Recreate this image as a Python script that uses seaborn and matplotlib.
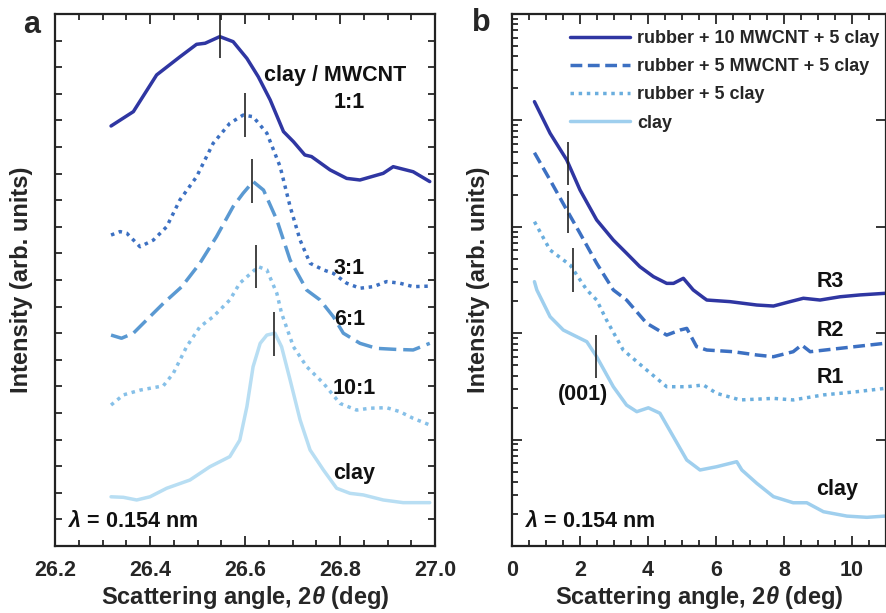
import numpy as np
import pandas as pd
import matplotlib
matplotlib.use("Agg")
import matplotlib.pyplot as plt
from matplotlib.ticker import MultipleLocator, LogLocator, NullFormatter
import seaborn as sns

# ---------------- Panel a data ----------------
a_11_x = [26.318, 26.365, 26.414, 26.463, 26.498, 26.516, 26.547, 26.575, 26.604, 26.628, 26.653,
          26.681, 26.702, 26.726, 26.740, 26.779, 26.814, 26.842, 26.891, 26.912, 26.954, 26.989]
a_11_y = [15.79, 16.33, 17.71, 18.39, 18.86, 18.90, 19.15, 18.96, 18.33, 17.64, 16.77,
          15.58, 15.20, 14.70, 14.64, 14.14, 13.82, 13.76, 14.01, 14.26, 14.07, 13.70]

a_31_x = [26.318, 26.337, 26.351, 26.379, 26.407, 26.435, 26.463, 26.498, 26.533, 26.568, 26.596, 26.617,
          26.646, 26.674, 26.695, 26.716, 26.737, 26.765, 26.786, 26.814, 26.842, 26.870, 26.898, 26.926,
          26.954, 26.989]
a_31_y = [11.69, 11.82, 11.76, 11.25, 11.50, 12.00, 13.01, 13.88, 15.14, 15.89, 16.20, 16.14,
          15.52, 14.26, 12.76, 11.50, 10.63, 10.38, 10.25, 9.88, 9.69, 9.75, 9.94, 9.88,
          9.75, 9.77]

a_61_x = [26.318, 26.340, 26.365, 26.393, 26.428, 26.467, 26.505, 26.540, 26.575, 26.596, 26.617, 26.639,
          26.667, 26.695, 26.730, 26.758, 26.786, 26.807, 26.842, 26.877, 26.919, 26.954, 26.989]
a_61_y = [7.93, 7.81, 8.00, 8.50, 9.12, 9.75, 10.63, 11.63, 12.76, 13.26, 13.70, 13.38,
          12.26, 10.75, 9.62, 9.25, 8.62, 8.00, 7.62, 7.43, 7.39, 7.37, 7.62]

a_101_x = [26.318, 26.344, 26.379, 26.428, 26.449, 26.477, 26.505, 26.533, 26.568, 26.589, 26.628, 26.646,
           26.667, 26.677, 26.702, 26.730, 26.765, 26.800, 26.835, 26.863, 26.898, 26.926, 26.954, 26.989]
a_101_y = [5.30, 5.68, 5.86, 6.02, 6.49, 7.49, 8.24, 8.62, 9.25, 9.88, 10.50, 10.38,
           9.50, 8.75, 7.49, 6.74, 6.12, 5.36, 5.11, 5.18, 5.20, 5.05, 4.80, 4.55]

a_clay_x = [26.318, 26.344, 26.372, 26.400, 26.435, 26.484, 26.526, 26.568, 26.589, 26.604, 26.617, 26.632,
            26.646, 26.663, 26.677, 26.695, 26.716, 26.737, 26.765, 26.793, 26.821, 26.849, 26.891, 26.933,
            26.989]
a_clay_y = [1.85, 1.83, 1.73, 1.85, 2.17, 2.48, 2.98, 3.36, 3.98, 5.24, 6.74, 7.62,
            7.93, 8.00, 7.49, 6.24, 4.74, 3.61, 2.86, 2.17, 1.98, 1.92, 1.73, 1.63,
            1.63]

a_peak_x = [26.547, 26.599, 26.615, 26.623, 26.660]
a_peak_y0 = [18.33, 15.39, 12.91, 9.70, 7.14]
a_peak_y1 = [19.96, 17.04, 14.54, 11.32, 8.81]
a_ratio_labels = ["1:1", "3:1", "6:1", "10:1", "clay"]

# ---------------- Panel b data ----------------
b_r3_x = [0.66, 1.12, 1.61, 2.00, 2.49, 2.98, 3.37, 3.76, 4.16, 4.55, 4.75, 5.04, 5.33, 5.63, 5.73,
          6.41, 7.20, 7.69, 8.18, 8.57, 9.06, 9.65, 10.24, 10.97]
b_r3_y = [15000, 7570, 4250, 2220, 1160, 751, 564, 422, 340, 294, 294, 328, 255, 216, 205,
          198, 184, 180, 198, 213, 205, 220, 229, 237]

b_r2_x = [0.66, 1.12, 1.61, 2.00, 2.49, 2.98, 3.37, 3.96, 4.55, 4.94, 5.14, 5.43, 5.73, 6.51, 7.20,
          7.69, 8.27, 8.52, 8.77, 9.65, 10.97]
b_r2_y = [4970, 2750, 1440, 869, 454, 255, 205, 124, 96, 107, 111, 74.7, 69.5, 67, 62.4,
          60.1, 67, 77.5, 67, 72.1, 80.4]

b_r1_x = [0.66, 1.12, 1.71, 2.20, 2.49, 2.78, 3.27, 3.96, 4.55, 5.14, 5.63, 6.02, 6.71, 7.69, 8.27,
          9.16, 10.14, 10.97]
b_r1_y = [1117, 605, 437, 255, 205, 133, 69.5, 45.1, 31.4, 31.4, 32.6, 27.2, 23.6, 24.4, 23.6,
          26.3, 28.2, 30.3]

b_clay_x = [0.66, 0.73, 1.12, 1.51, 2.20, 2.49, 2.98, 3.37, 3.67, 4.01, 4.35, 4.75, 5.14, 5.53, 6.02,
            6.61, 6.76, 7.20, 7.69, 8.27, 8.67, 9.16, 9.85, 10.44, 10.97]
b_clay_y = [305, 255, 143, 107, 83.2, 60.1, 31.4, 21.1, 18.3, 19.9, 17.7, 10.6, 6.43, 5.18, 5.56,
            6.20, 5.18, 3.88, 2.91, 2.55, 2.55, 2.10, 1.91, 1.86, 1.91]

b_peak_x = [1.64, 1.64, 1.79, 2.46]
b_peak_y0 = [2470, 869, 245, 38.2]
b_peak_y1 = [6310, 2185, 628, 96.2]
b_series_labels = ["rubber + 10 MWCNT + 5 clay", "rubber + 5 MWCNT + 5 clay", "rubber + 5 clay", "clay"]
b_curve_tags = ["R3", "R2", "R1", "clay"]

# ---------------- style ----------------
sns.set_style("ticks")
plt.rcParams["font.family"] = ["Liberation Sans", "DejaVu Sans"]
plt.rcParams["font.weight"] = "bold"
plt.rcParams["mathtext.fontset"] = "custom"
plt.rcParams["mathtext.it"] = "Liberation Sans:italic:bold"
plt.rcParams["mathtext.rm"] = "Liberation Sans:bold"
plt.rcParams["axes.linewidth"] = 1.6

navy = "#2f36a2"
blue_mid = "#3c70c2"
blue_61 = "#5a99d2"
blue_lt = "#86c0e8"
blue_clay_a = "#b8def3"
b_r1_col = "#6aaede"
b_clay_col = "#9fcfee"

LW = 2.5
DOT = (0, (1.0, 1.35))
DASH_B = (0, (3.4, 1.6))
DASH_A = (0, (5.0, 2.0))

fig = plt.figure(figsize=(8.87, 6.13), dpi=100)
axA = fig.add_axes([55 / 887, 67 / 613, 380 / 887, 532 / 613])
axB = fig.add_axes([512 / 887, 67 / 613, 374 / 887, 532 / 613])

# Panel a
series_a = [
    (a_11_x, a_11_y, navy, "-"),
    (a_31_x, a_31_y, blue_mid, DOT),
    (a_61_x, a_61_y, blue_61, DASH_A),
    (a_101_x, a_101_y, blue_lt, DOT),
    (a_clay_x, a_clay_y, blue_clay_a, "-"),
]
for xs, ys, col, ls in series_a:
    sns.lineplot(x=xs, y=ys, ax=axA, color=col, linestyle=ls, lw=LW, sort=False,
                 estimator=None)
axA.vlines(a_peak_x, a_peak_y0, a_peak_y1, color="#222222", lw=1.2)

axA.set_xlim(26.2, 27.0)
axA.set_ylim(0, 20)
axA.xaxis.set_major_locator(MultipleLocator(0.2))
axA.xaxis.set_minor_locator(MultipleLocator(0.05))
axA.yaxis.set_major_locator(MultipleLocator(1))
axA.yaxis.set_major_formatter(NullFormatter())
axA.xaxis.set_major_formatter(plt.FuncFormatter(lambda v, p: f"{v:.1f}"))
axA.tick_params(axis="both", which="both", direction="in", top=True, right=True,
                labelsize=15.5, width=1.3)
axA.tick_params(axis="x", which="major", length=7, pad=10)
axA.tick_params(axis="x", which="minor", length=4)
axA.tick_params(axis="y", which="major", length=5)

txt_kw = dict(fontsize=15.5, fontweight="bold", color="#111111")
axA.text(26.79, 17.7, "clay / MWCNT", ha="center", va="center", **txt_kw)
axA.text(26.82, 16.68, a_ratio_labels[0], ha="center", va="center", **txt_kw)
axA.text(26.82, 10.44, a_ratio_labels[1], ha="center", va="center", **txt_kw)
axA.text(26.82, 8.52, a_ratio_labels[2], ha="center", va="center", **txt_kw)
axA.text(26.83, 5.93, a_ratio_labels[3], ha="center", va="center", **txt_kw)
axA.text(26.83, 2.71, a_ratio_labels[4], ha="center", va="center", **txt_kw)
axA.text(0.035, 0.046, r"$\lambda$ = 0.154 nm", transform=axA.transAxes, ha="left", va="center",
         **txt_kw)

# Panel b
series_b = [
    (b_r3_x, b_r3_y, navy, "-"),
    (b_r2_x, b_r2_y, blue_mid, DASH_B),
    (b_r1_x, b_r1_y, b_r1_col, DOT),
    (b_clay_x, b_clay_y, b_clay_col, "-"),
]
for (xs, ys, col, ls), lab in zip(series_b, b_series_labels):
    sns.lineplot(x=xs, y=ys, ax=axB, color=col, linestyle=ls, lw=LW, sort=False,
                 estimator=None, label=lab)
axB.vlines(b_peak_x, b_peak_y0, b_peak_y1, color="#222222", lw=1.2)

axB.set_yscale("log")
axB.set_xlim(0, 11)
axB.set_ylim(1, 1e5)
axB.xaxis.set_major_locator(MultipleLocator(2))
axB.xaxis.set_minor_locator(MultipleLocator(0.5))
axB.yaxis.set_major_locator(LogLocator(base=10, numticks=10))
axB.yaxis.set_minor_locator(LogLocator(base=10, subs=np.arange(2, 10), numticks=10))
axB.yaxis.set_major_formatter(NullFormatter())
axB.yaxis.set_minor_formatter(NullFormatter())
axB.tick_params(axis="both", which="both", direction="in", top=True, right=True,
                labelsize=15.5, width=1.3)
axB.tick_params(axis="x", which="major", length=7, pad=10)
axB.tick_params(axis="x", which="minor", length=4)
axB.tick_params(axis="y", which="major", length=7)
axB.tick_params(axis="y", which="minor", length=4, right=False)

axB.text(9.35, 305, b_curve_tags[0], ha="center", va="center", **txt_kw)
axB.text(9.35, 107, b_curve_tags[1], ha="center", va="center", **txt_kw)
axB.text(9.35, 38.2, b_curve_tags[2], ha="center", va="center", **txt_kw)
axB.text(9.55, 3.36, b_curve_tags[3], ha="center", va="center", **txt_kw)
axB.text(2.08, 26.3, "(001)", ha="center", va="center", **txt_kw)
axB.text(0.035, 0.046, r"$\lambda$ = 0.154 nm", transform=axB.transAxes, ha="left", va="center",
         **txt_kw)

leg = axB.legend(loc="upper left", bbox_to_anchor=((570 - 512) / 374, (546 - 30) / 532),
                 frameon=False, fontsize=13, handlelength=3.3, handletextpad=0.4,
                 labelspacing=0.62, borderaxespad=0, borderpad=0)
for t in leg.get_texts():
    t.set_fontweight("bold")

for ax in (axA, axB):
    ax.set_xlabel(r"Scattering angle, 2$\theta$ (deg)", fontsize=17, fontweight="bold")
    ax.set_ylabel("Intensity (arb. units)", fontsize=17, fontweight="bold")
    for sp in ax.spines.values():
        sp.set_color("#222222")
axA.yaxis.set_label_coords(-0.058, 0.5)
axB.yaxis.set_label_coords(-0.059, 0.5)
axA.xaxis.set_label_coords(0.5, -0.071)
axB.xaxis.set_label_coords(0.5, -0.071)

fig.text(31.5 / 887, 1 - 25 / 613, "a", fontsize=22, fontweight="bold", ha="center", va="center")
fig.text(481 / 887, 1 - 23 / 613, "b", fontsize=22, fontweight="bold", ha="center", va="center")

fig.savefig("out.png", dpi=100)
